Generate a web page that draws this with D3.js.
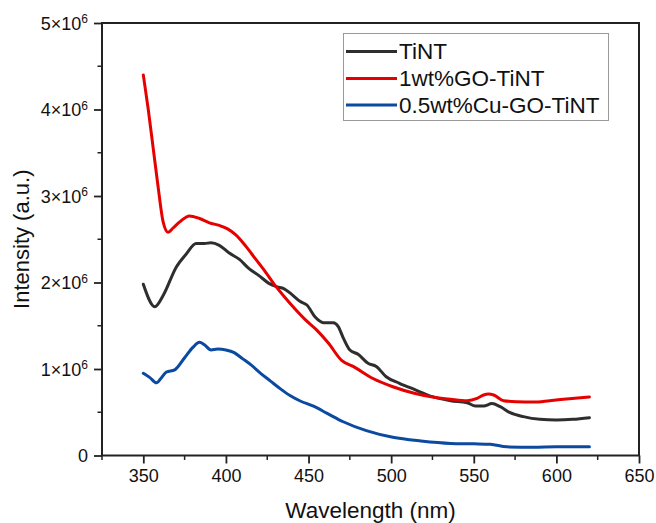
<!DOCTYPE html>
<html>
<head>
<meta charset="utf-8">
<script src="https://cdn.jsdelivr.net/npm/d3@7"></script>
<style>
  body { margin: 0; background: #fff; }
  svg { font-family: "Liberation Sans", Arial, sans-serif; }
</style>
</head>
<body>
<svg id="chart"></svg>
<script>
// wavelength (nm) / intensity (x1e6)
var tintWave = [350,357,362,370,376,382,387,391,396,402,408,414,420,426,431,435,440,445,449,454,459,465,468,471,475,480,486,491,497,505,515,525,536,546,551,556,561,566,572,580,590,600,610,620]
var tintVal  = [1.98,1.72,1.85,2.18,2.33,2.45,2.45,2.46,2.43,2.34,2.27,2.16,2.08,1.99,1.95,1.93,1.86,1.78,1.74,1.60,1.535,1.535,1.49,1.36,1.22,1.17,1.066,1.03,0.91,0.835,0.757,0.68,0.634,0.61,0.572,0.572,0.60,0.564,0.495,0.449,0.418,0.41,0.418,0.437]

var goWave = [350,353,356,359,362,365,368,372,378,384,390,396,401,406,412,418,424,430,436,442,448,455,462,470,477,489,501,514,526,536,546,552,556,559,562,568,576,586,596,606,620]
var goVal  = [4.4,4.0,3.55,3.1,2.7,2.58,2.63,2.70,2.77,2.74,2.69,2.66,2.62,2.55,2.42,2.27,2.12,1.96,1.82,1.69,1.57,1.45,1.30,1.10,1.03,0.89,0.795,0.72,0.673,0.65,0.634,0.66,0.70,0.71,0.70,0.634,0.622,0.618,0.634,0.653,0.676]

var cuWave = [350,354,358,361,364,369,375,380,384,387,391,395,400,405,410,415,421,427,433,439,445,453,461,471,485,501,518,536,550,560,570,586,600,620]
var cuVal  = [0.95,0.9,0.84,0.9,0.965,0.99,1.13,1.25,1.31,1.28,1.22,1.23,1.22,1.19,1.12,1.05,0.95,0.86,0.77,0.69,0.63,0.57,0.49,0.39,0.287,0.21,0.168,0.14,0.135,0.13,0.10,0.095,0.10,0.10]

var seriesNames = ["TiNT", "1wt%GO-TiNT", "0.5wt%Cu-GO-TiNT"]
var seriesColors = ["#2e2e2e", "#e60000", "#0a4aa0"]

var xTicks = [350,400,450,500,550,600,650]
var yTicks = [0,1,2,3,4,5]

var toPoints = function(waves, vals)
{
    return waves.map(function(w, i) { return {x: w, y: vals[i]} })
}

var series = [toPoints(tintWave, tintVal), toPoints(goWave, goVal), toPoints(cuWave, cuVal)]

var screen = {width: 656, height: 523}
var plot = {left: 102, right: 639, top: 23, bottom: 455.5}

var svg = d3.select("#chart")
    .attr("width", screen.width)
    .attr("height", screen.height)

var xScale = d3.scaleLinear().domain([325, 650]).range([plot.left, plot.right])
var yScale = d3.scaleLinear().domain([0, 5]).range([plot.bottom, plot.top])

// minor ticks
var xMinor = d3.range(325, 650, 25).filter(function(d) { return xTicks.indexOf(d) < 0 })
var yMinor = d3.range(0.5, 5, 1)

svg.append("g")
    .selectAll("line")
    .data(xMinor)
    .enter()
    .append("line")
    .attr("x1", function(d) { return xScale(d) })
    .attr("x2", function(d) { return xScale(d) })
    .attr("y1", plot.bottom)
    .attr("y2", plot.bottom + 4.5)
    .attr("stroke", "#222")
    .attr("stroke-width", 1.5)

svg.append("g")
    .selectAll("line")
    .data(yMinor)
    .enter()
    .append("line")
    .attr("x1", plot.left)
    .attr("x2", plot.left - 4.5)
    .attr("y1", function(d) { return yScale(d) })
    .attr("y2", function(d) { return yScale(d) })
    .attr("stroke", "#222")
    .attr("stroke-width", 1.5)

// axes
var xAxis = d3.axisBottom(xScale).tickValues(xTicks).tickSize(8).tickPadding(6)
var yAxis = d3.axisLeft(yScale).tickValues(yTicks).tickSize(8).tickFormat(function() { return "" })

var gx = svg.append("g")
    .attr("transform", "translate(0," + plot.bottom + ")")
    .call(xAxis)
var gy = svg.append("g")
    .attr("transform", "translate(" + plot.left + ",0)")
    .call(yAxis)

;[gx, gy].forEach(function(g)
{
    g.select(".domain").remove()
    g.selectAll("line").attr("stroke", "#222").attr("stroke-width", 1.8)
    g.selectAll("text").attr("font-size", 18).attr("fill", "#111").attr("font-family", "Liberation Sans, Arial, sans-serif")
})

// y labels with superscript
gy.selectAll(".tick text").remove()
gy.selectAll(".tick")
    .append("text")
    .attr("x", -14)
    .attr("dy", "0.35em")
    .attr("text-anchor", "end")
    .attr("font-size", 18)
    .attr("fill", "#111")
    .each(function(d)
    {
        var t = d3.select(this)
        if (d === 0) { t.text("0"); return }
        t.append("tspan").text(d + "\u00d710")
        t.append("tspan").text("6").attr("font-size", 12).attr("dy", "-0.55em")
    })

// frame
svg.append("rect")
    .attr("x", plot.left)
    .attr("y", plot.top)
    .attr("width", plot.right - plot.left)
    .attr("height", plot.bottom - plot.top)
    .attr("fill", "none")
    .attr("stroke", "#222")
    .attr("stroke-width", 2)

// lines
var line = d3.line()
    .x(function(d) { return xScale(d.x) })
    .y(function(d) { return yScale(d.y) })
    .curve(d3.curveMonotoneX)

svg.append("g")
    .selectAll("path")
    .data(series)
    .enter()
    .append("path")
    .attr("d", line)
    .attr("fill", "none")
    .attr("stroke", function(d, i) { return seriesColors[i] })
    .attr("stroke-width", 3)
    .attr("stroke-linejoin", "round")
    .attr("stroke-linecap", "round")

// labels
svg.append("text")
    .text("Wavelength (nm)")
    .attr("x", (plot.left + plot.right) / 2)
    .attr("y", 518)
    .attr("text-anchor", "middle")
    .attr("font-size", 22.5)
    .attr("fill", "#111")

svg.append("g")
    .attr("transform", "translate(29," + ((plot.top + plot.bottom) / 2) + ")")
    .append("text")
    .text("Intensity (a.u.)")
    .attr("transform", "rotate(270)")
    .attr("text-anchor", "middle")
    .attr("font-size", 22)
    .attr("fill", "#111")

// legend
var legend = svg.append("g")
legend.append("rect")
    .attr("x", 343.5)
    .attr("y", 33.5)
    .attr("width", 265)
    .attr("height", 87)
    .attr("fill", "#fff")
    .attr("stroke", "#999")
    .attr("stroke-width", 1)

var rowY = [51.5, 78.5, 105]
seriesNames.forEach(function(name, i)
{
    legend.append("line")
        .attr("x1", 346)
        .attr("x2", 397)
        .attr("y1", rowY[i])
        .attr("y2", rowY[i])
        .attr("stroke", seriesColors[i])
        .attr("stroke-width", 3)
    legend.append("text")
        .text(name)
        .attr("x", 399)
        .attr("y", rowY[i] + 7.5)
        .attr("font-size", 22.5)
        .attr("fill", "#111")
})
</script>
</body>
</html>
